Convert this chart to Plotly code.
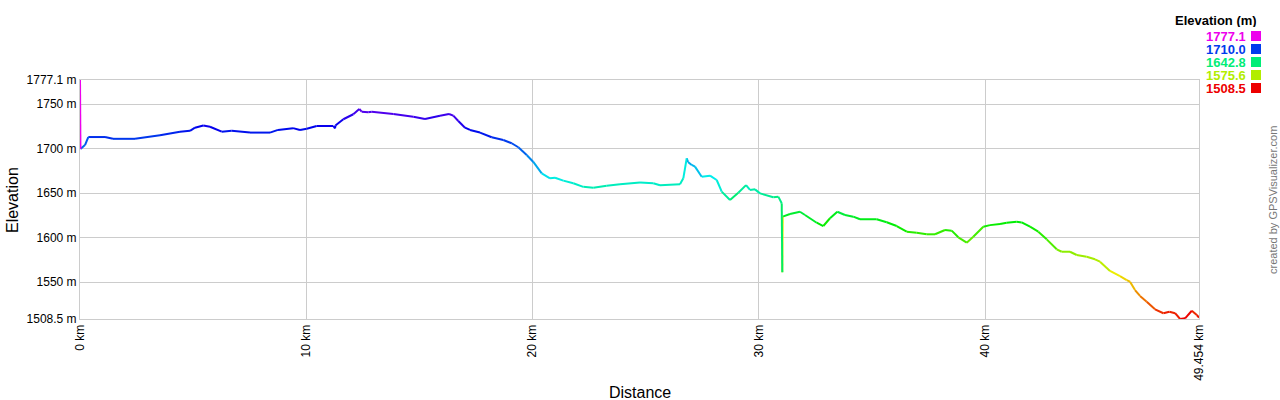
import colorsys
import plotly.graph_objects as go

distance_km = [
    0.0, 0.02, 0.221, 0.367, 1.105, 1.458, 2.431, 3.536, 4.419, 4.861, 5.082, 5.449,
    5.745, 6.262, 6.704, 7.513, 8.397, 8.751, 9.414, 9.723, 10.019, 10.461, 11.195,
    11.270, 11.29, 11.636, 12.078, 12.344, 12.450, 12.741, 12.892, 13.846, 14.730,
    15.247, 15.910, 16.308, 16.498, 16.719, 17.015, 17.236, 17.678, 18.195, 18.708,
    19.079, 19.371, 19.742, 20.034, 20.405, 20.772, 20.993, 21.360, 21.801, 22.243,
    22.685, 23.277, 23.865, 24.749, 25.337, 25.633, 26.517, 26.663, 26.813, 26.87,
    27.034, 27.180, 27.476, 27.843, 28.139, 28.360, 28.727, 29.094, 29.435, 29.611,
    29.832, 30.053, 30.640, 30.861, 31.012, 31.038, 31.056, 31.378, 31.820, 32.041,
    32.558, 32.850, 33.146, 33.469, 33.809, 34.176, 34.472, 35.210, 35.652, 36.094,
    36.536, 36.978, 37.420, 37.787, 38.229, 38.525, 38.817, 39.188, 39.479, 39.921,
    40.217, 40.659, 40.955, 41.397, 41.618, 41.985, 42.352, 42.723, 43.165, 43.386,
    43.753, 44.049, 44.491, 44.858, 45.079, 45.521, 45.963, 46.259, 46.405, 46.626,
    46.847, 47.143, 47.510, 47.881, 48.146, 48.398, 48.619, 48.840, 49.136, 49.357,
    49.454,
]
elevation_m = [
    1777.1, 1699.5, 1704, 1713, 1713, 1711, 1711, 1715, 1719, 1720, 1723.5, 1726,
    1724.6, 1719, 1720, 1718, 1718, 1721, 1723, 1721, 1722.4, 1725.4, 1725.4,
    1722.8, 1726, 1733, 1738.6, 1744.5, 1741.5, 1740.8, 1741.5, 1738.9, 1735.9,
    1733.3, 1737, 1738.9, 1737, 1731, 1723.5, 1721, 1718, 1712.7, 1709.7,
    1706, 1701.5, 1692.8, 1685, 1672.2, 1666.6, 1667.3, 1664, 1661, 1657,
    1656, 1658.3, 1660, 1662, 1661, 1658.8, 1660, 1666.6, 1689, 1685,
    1681.6, 1679.7, 1668.4, 1669.6, 1664.7, 1651.6, 1642.2, 1650.4, 1659, 1653.5,
    1654.2, 1649.7, 1645.3, 1646, 1638.5, 1561, 1623.5, 1626.5, 1629, 1625.4,
    1616.7, 1613, 1621.7, 1629, 1625.4, 1623.5, 1620.6, 1620.6, 1617.2, 1613,
    1606.6, 1605.5, 1603.7, 1603.7, 1608.5, 1607.8, 1600.3, 1594.3, 1601, 1612.2,
    1614, 1615.3, 1616.7, 1617.8, 1617, 1612.2, 1606.6, 1598, 1586.8, 1584.1,
    1584.1, 1580.4, 1578.5, 1575.6, 1572.9, 1562.5, 1556.8, 1552.3, 1550.4, 1541,
    1534.4, 1528, 1519.4, 1515, 1516.7, 1515, 1508.5, 1509.3, 1517.8, 1513,
    1510,
]

x_tick_vals = [0, 10, 20, 30, 40, 49.454]
x_tick_text = ["0 km", "10 km", "20 km", "30 km", "40 km", "49.454 km"]
y_tick_vals = [1508.5, 1550, 1600, 1650, 1700, 1750, 1777.1]
y_tick_text = ["1508.5 m", "1550 m", "1600 m", "1650 m", "1700 m", "1750 m", "1777.1 m"]
legend_values = [1777.1, 1710.0, 1642.8, 1575.6, 1508.5]

E_MIN, E_MAX = 1508.5, 1777.1


def elev_color(e):
    h = 300.0 * (e - E_MIN) / (E_MAX - E_MIN) / 360.0
    h = min(max(h, 0.0), 300.0 / 360.0)
    r, g, b = colorsys.hsv_to_rgb(h, 1.0, 0.93)
    return "rgb(%d,%d,%d)" % (round(r * 255), round(g * 255), round(b * 255))


fig = go.Figure()
n = len(distance_km)
for i in reversed(range(n - 1)):
    fig.add_trace(go.Scatter(
        x=[distance_km[i], distance_km[i + 1]],
        y=[elevation_m[i], elevation_m[i + 1]],
        mode="lines",
        line=dict(color=elev_color(elevation_m[i]), width=2),
        showlegend=False,
        hoverinfo="skip",
    ))

L, R, T, B = 80, 81, 80, 81
PW, PH = 1280 - L - R, 400 - T - B


def px(xp):
    return (xp - L) / PW


def py(yp):
    return (400 - B - yp) / PH


font_family = "Liberation Sans, Arial, sans-serif"
annotations = [
    dict(text="Distance", x=px(640), y=py(392), xref="paper", yref="paper",
         showarrow=False, font=dict(size=16, color="#000"), xanchor="center", yanchor="middle"),
    dict(text="Elevation", x=px(12), y=py(200), xref="paper", yref="paper", textangle=-90,
         showarrow=False, font=dict(size=16, color="#000"), xanchor="center", yanchor="middle"),
    dict(text="created by GPSVisualizer.com", x=px(1273), y=py(200), xref="paper", yref="paper",
         textangle=-90, showarrow=False, font=dict(size=11, color="#777"),
         xanchor="center", yanchor="middle"),
    dict(text="<b>Elevation (m)</b>", x=px(1258), y=py(21), xref="paper", yref="paper",
         showarrow=False, font=dict(size=13, color="#000"), xanchor="right", yanchor="middle",
         borderpad=0, height=13),
]
shapes = []
for k, v in enumerate(legend_values):
    yc = 36 + 13 * k
    annotations.append(dict(
        text="<b>%.1f</b>" % v, x=px(1247), y=py(yc), xref="paper", yref="paper",
        showarrow=False, font=dict(size=13, color=elev_color(v)),
        xanchor="right", yanchor="middle", borderpad=0, height=12))
    shapes.append(dict(type="rect", xref="paper", yref="paper",
                       x0=px(1251), x1=px(1261), y0=py(yc + 5), y1=py(yc - 5),
                       fillcolor=elev_color(v), line=dict(width=0)))

fig.update_layout(
    width=1280, height=400,
    margin=dict(l=L, r=R, t=T, b=B),
    paper_bgcolor="white", plot_bgcolor="white",
    font=dict(family=font_family, size=12, color="#000"),
    xaxis=dict(range=[0, 49.454], tickvals=x_tick_vals, ticktext=x_tick_text,
               tickangle=-90, showgrid=True, gridcolor="#cccccc", gridwidth=1,
               showline=True, linecolor="#cccccc", mirror=True, zeroline=False,
               ticks="", tickfont=dict(size=12)),
    yaxis=dict(range=[E_MIN, E_MAX], tickvals=y_tick_vals, ticktext=y_tick_text,
               showgrid=True, gridcolor="#cccccc", gridwidth=1,
               showline=True, linecolor="#cccccc", mirror=True, zeroline=False,
               ticks="", tickfont=dict(size=12)),
    annotations=annotations,
    shapes=shapes,
    showlegend=False,
)

fig.write_html(
    "out.html",
    config={"displayModeBar": False},
    post_script="document.body.style.margin='0';document.body.style.padding='0';",
)
